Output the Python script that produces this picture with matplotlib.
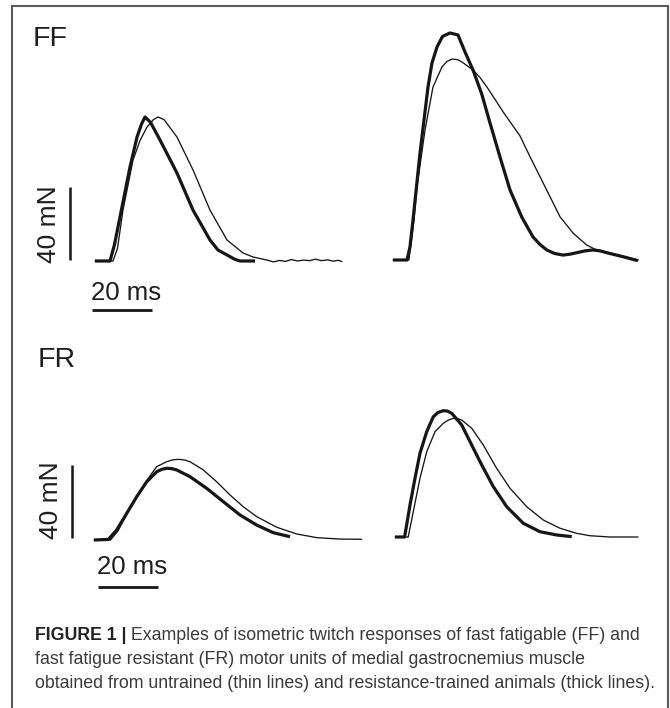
import matplotlib
matplotlib.use("Agg")
import matplotlib.pyplot as plt
from matplotlib.lines import Line2D

plt.rcParams['font.family'] = ['Liberation Sans', 'DejaVu Sans']

# ---------------- data (time in ms, force in mN) ----------------
# FF unit, left pair
ff1_thick_t = [0, 5, 6.5, 8.33, 11.67, 14, 15.5, 16.67, 18.5, 21.67, 27.33, 32.67, 38.33, 41, 44, 46.5, 48.33, 53.33]
ff1_thick_f = [0, 0, 9, 24.1, 51.5, 67.9, 75, 78.9, 76, 66.3, 48.2, 27.9, 11.5, 6, 3.3, 1, 0, 0]
ff1_thin_t = [0, 6, 7.5, 9.33, 12.67, 15, 17.33, 19.5, 21, 23, 27.33, 32.67, 38.33, 44, 49.33, 52.67, 57.33,
              59.5, 61.5, 63.5, 65.5, 67.5, 69.5, 71.5, 73.5, 75.5, 77.5, 79.5, 81, 82.3]
ff1_thin_f = [0, 0, 7, 27.9, 55.3, 66, 73.4, 77.5, 78.9, 77.5, 67.9, 49.9, 27.9, 11.5, 4.4, 2.2, 0.5,
              -0.5, 0.3, -0.2, 0.8, 0.0, 0.5, 0.2, 1.0, 0.2, 0.6, -0.1, 0.4, -0.3]

# FF unit, right pair
ff2_thick_t = [0, 4.67, 5.67, 6.67, 9, 11.67, 13, 14.67, 16.5, 19, 21.67, 24, 26.67, 29.57, 32.33, 35.67, 39,
               42.9, 46.67, 49, 51.23, 53.8, 56.67, 59, 61.23, 64, 66.67, 69, 71.23, 76.67, 81.67]
ff2_thick_f = [0, 0, 7.3, 21.9, 58.6, 94.8, 108, 116.7, 122.5, 124.4, 123.3, 114, 104.1, 91, 75.1, 56.4, 38.4,
               23.6, 12.6, 8.5, 5.5, 3.6, 2.7, 3.2, 4.0, 5.0, 5.5, 5.0, 4.0, 1.8, -0.4]
ff2_thin_t = [0, 5.3, 7, 8, 10.67, 13.33, 16.33, 18, 19.67, 21.5, 23, 26.67, 29, 31.23, 36.77, 42.33, 45.67,
              49.57, 52.33, 55.67, 60.1, 64.57, 67.33, 70.7, 75.7, 81.7]
ff2_thin_f = [0, 0, 22, 40, 71.2, 94.8, 105.8, 108.8, 110.1, 109.8, 108.5, 104.1, 100, 95, 81, 68, 56.6,
              43.8, 34.7, 23.7, 14.6, 8.2, 5.9, 4.5, 2.5, 0]

# FR unit, left pair
fr1_thick_t = [0, 4.77, 7.57, 10.9, 14.23, 17.57, 20.9, 22.6, 24.23, 25.9, 27.57, 32, 37.57, 43.1, 48.67, 54.23,
               59.77, 65.33]
fr1_thick_f = [0, 0.3, 5.5, 14.6, 23.7, 31.9, 37.4, 38.7, 39.3, 39.1, 38.4, 34.7, 28.3, 21.0, 13.7, 8.2,
               4.0, 1.8]
fr1_thin_t = [0, 5.5, 8, 11.33, 14.5, 17.57, 20.9, 24.23, 26.2, 28.1, 30, 32, 36.43, 40.9, 45.33, 49.77, 54.23,
              60.9, 67.57, 74.23, 82, 89.23]
fr1_thin_f = [0, 0, 5, 15.3, 24.5, 32.6, 40.2, 42.9, 43.9, 44.2, 43.9, 42.9, 38.4, 31.9, 24.7, 18.2, 12.8,
              7.0, 3.3, 1.3, 0.5, 0.4]

# FR unit, right pair
fr2_thick_t = [0, 3.2, 5, 6.67, 8.33, 10.57, 12.77, 14.3, 16.1, 17.5, 18.9, 22.23, 25.57, 28.9, 32.77, 37.23,
               42.77, 48.33, 53.9, 58.9]
fr2_thick_f = [0, 0, 17.5, 32.2, 45.9, 57.7, 65.9, 68.2, 69.2, 69.0, 67.8, 61.4, 50.4, 39.5, 27.6, 16.6,
               7.5, 2.9, 1.1, 0.2]
fr2_thin_t = [0, 4.4, 6.1, 8.33, 10.57, 13.33, 16.1, 17.8, 19.43, 20.8, 22.23, 25.57, 29.43, 33.9, 38.33, 43.9,
              49.43, 55, 60.57, 65, 71.67, 81]
fr2_thin_f = [0, 0, 13.9, 32.2, 46.7, 57.7, 62.3, 64.1, 65.0, 64.9, 64.1, 59.6, 50.4, 37.6, 26.7, 16.6,
              9.3, 4.8, 2.0, 0.7, 0, 0]

scale_time = 20    # ms
scale_force = 40   # mN
unit_labels = ["FF", "FR"]
time_label = "20 ms"
force_label = "40 mN"
caption_bold = "FIGURE 1 |"
caption_lines = [
    " Examples of isometric twitch responses of fast fatigable (FF) and",
    "fast fatigue resistant (FR) motor units of medial gastrocnemius muscle",
    "obtained from untrained (thin lines) and resistance-trained animals (thick lines).",
]

# ---------------- layout ----------------
W, H = 670, 708
PX_MS = 3.0      # pixels per ms
PX_MN = 1.825    # pixels per mN
INK = '#161616'
THICK = 2.3
THIN = 0.95

fig = plt.figure(figsize=(W / 100, H / 100), dpi=100)


def panel(ox, oy):
    left, right = ox - 80, ox + 270
    top, bottom = oy - 240, oy + 70
    ax = fig.add_axes([left / W, 1 - bottom / H, (right - left) / W, (bottom - top) / H])
    ax.set_xlim(-80 / PX_MS, 270 / PX_MS)
    ax.set_ylim(-70 / PX_MN, 240 / PX_MN)
    ax.axis('off')
    return ax


def traces(ax, tt, tf, nt, nf):
    ax.plot(nt, nf, color=INK, lw=THIN, solid_joinstyle='round', solid_capstyle='round')
    ax.plot(tt, tf, color=INK, lw=THICK, solid_joinstyle='round', solid_capstyle='butt')


def scalebars(ax, vx, vy0, hx0, hy, tx, ty, fx, fy):
    ax.plot([vx, vx], [vy0, vy0 + scale_force], color=INK, lw=1.8, solid_capstyle='butt')
    ax.plot([hx0, hx0 + scale_time], [hy, hy], color=INK, lw=2.0, solid_capstyle='butt')
    ax.text(tx, ty, time_label, ha='center', va='baseline', fontsize=18.5, color='#1e1e1e')
    ax.text(fx, fy, force_label, ha='center', va='baseline', rotation=90, rotation_mode='anchor',
            fontsize=19, color='#1e1e1e')


# FF row
a = panel(95, 261)
traces(a, ff1_thick_t, ff1_thick_f, ff1_thin_t, ff1_thin_f)
scalebars(a, -8.33, 0.5, -1.0, -26.85, 10.5, -21.4, -13.0, 20.3)
b = panel(393, 260)
traces(b, ff2_thick_t, ff2_thick_f, ff2_thin_t, ff2_thin_f)

# FR row
c = panel(94, 540)
traces(c, fr1_thick_t, fr1_thick_f, fr1_thin_t, fr1_thin_f)
scalebars(c, -7.33, 1.1, 1.33, -25.75, 12.7, -18.6, -12.0, 21.9)
d = panel(395, 537)
traces(d, fr2_thick_t, fr2_thick_f, fr2_thin_t, fr2_thin_f)

# unit labels
fig.text(33 / W, 1 - 46 / H, unit_labels[0], fontsize=20.5, color='#1e1e1e', ha='left', va='baseline')
fig.text(38 / W, 1 - 367 / H, unit_labels[1], fontsize=20.5, color='#1e1e1e', ha='left', va='baseline')

# border (open at the bottom)
for xs, ys in [([12, 12], [H + 5, 6]), ([12, 668], [6, 6]), ([668, 668], [6, H + 5])]:
    fig.add_artist(Line2D([x / W for x in xs], [1 - y / H for y in ys], transform=fig.transFigure,
                          color='#5a5a5a', lw=1.5))

# caption
cap_size = 12.8
renderer = fig.canvas.get_renderer()
tb = fig.text(35 / W, 1 - 640 / H, caption_bold, fontsize=cap_size, weight='bold', color='#222222',
              ha='left', va='baseline')
bb = tb.get_window_extent(renderer)
fig.text(bb.x1 / W, 1 - 640 / H, caption_lines[0], fontsize=cap_size, color='#3a3a3a', ha='left', va='baseline')
fig.text(35 / W, 1 - 664 / H, caption_lines[1], fontsize=cap_size, color='#3a3a3a', ha='left', va='baseline')
fig.text(35 / W, 1 - 688 / H, caption_lines[2], fontsize=cap_size, color='#3a3a3a', ha='left', va='baseline')

fig.savefig('out.png', dpi=100, facecolor='white')
